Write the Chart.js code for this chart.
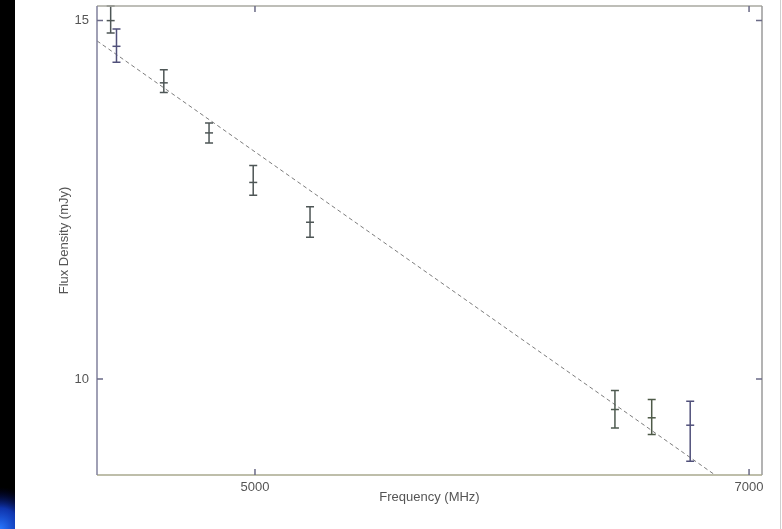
<!DOCTYPE html>
<html><head><meta charset="utf-8">
<script src="https://cdn.jsdelivr.net/npm/chart.js@4.4.1/dist/chart.umd.min.js"></script>
<style>html,body{margin:0;padding:0;background:#fff;}canvas{display:block;}</style>
</head><body>
<canvas id="c" width="782" height="529"></canvas>
<script>
// ---- data ----
const frequencies = [4532, 4550, 4699, 4846, 4994, 5191, 6389, 6551, 6725];   // MHz
const fluxValues  = [15.00, 14.57, 13.98, 13.21, 12.49, 11.94, 9.66, 9.57, 9.49]; // mJy
const fluxLower   = [14.79, 14.31, 13.83, 13.06, 12.31, 11.74, 9.46, 9.39, 9.11];
const fluxUpper   = [15.25, 14.86, 14.19, 13.36, 12.73, 12.15, 9.87, 9.77, 9.75];
const fitFrequencies = [4490, 6840];
const fitFlux        = [14.66, 8.97];
const xTickValues = [5000, 7000];
const yTickValues = [10, 15];
const xRange = [4490, 7062];
const yRange = [8.97, 15.25];

const barColors = ['#4e5656','#50507a','#4e5656','#4e5656','#4e5656','#4e5656','#4e5a50','#4e5a48','#50507a'];
const FONT = {family: '"Liberation Sans", Arial, sans-serif', size: 13};

const bgPlugin = {
  id: 'bg',
  beforeDraw(chart) {
    const {ctx, width, height} = chart;
    ctx.save();
    ctx.fillStyle = '#fff'; ctx.fillRect(0, 0, width, height);
    ctx.fillStyle = '#000'; ctx.fillRect(0, 0, 15, height);
    const g = ctx.createRadialGradient(0, height, 0, 0, height, 42);
    g.addColorStop(0, 'rgba(40,120,255,1)');
    g.addColorStop(0.5, 'rgba(20,70,230,0.75)');
    g.addColorStop(1, 'rgba(0,0,90,0)');
    ctx.fillStyle = g; ctx.fillRect(0, height - 42, 15, 42);
    ctx.fillStyle = '#cfcfcf'; ctx.fillRect(780, 0, 1, height);
    ctx.restore();
  }
};

const errPlugin = {
  id: 'errbars',
  afterDatasetsDraw(chart) {
    const {ctx, scales: {x, y}} = chart;
    ctx.save();
    ctx.lineWidth = 1.5;
    for (let i = 0; i < frequencies.length; i++) {
      const px = x.getPixelForValue(frequencies[i]);
      const yl = y.getPixelForValue(fluxLower[i]);
      const yh = y.getPixelForValue(fluxUpper[i]);
      ctx.strokeStyle = barColors[i];
      ctx.beginPath();
      ctx.moveTo(px, yl); ctx.lineTo(px, yh);
      ctx.moveTo(px - 4, yl); ctx.lineTo(px + 4, yl);
      ctx.moveTo(px - 4, yh); ctx.lineTo(px + 4, yh);
      ctx.stroke();
    }
    ctx.restore();
  }
};

const framePlugin = {
  id: 'frame',
  afterDraw(chart) {
    const {ctx, chartArea: a, scales: {x, y}} = chart;
    ctx.save();
    ctx.lineWidth = 1.5;
    ctx.strokeStyle = '#a8a8a0';
    ctx.beginPath(); ctx.moveTo(a.left, a.top); ctx.lineTo(a.right, a.top); ctx.stroke();
    ctx.strokeStyle = '#9a9a9a';
    ctx.beginPath(); ctx.moveTo(a.right, a.top); ctx.lineTo(a.right, a.bottom); ctx.stroke();
    ctx.strokeStyle = '#a9a98e';
    ctx.beginPath(); ctx.moveTo(a.left, a.bottom); ctx.lineTo(a.right, a.bottom); ctx.stroke();
    ctx.strokeStyle = '#80809c';
    ctx.beginPath(); ctx.moveTo(a.left, a.top); ctx.lineTo(a.left, a.bottom); ctx.stroke();
    ctx.strokeStyle = '#6a6a86';
    ctx.beginPath();
    x.ticks.forEach(t => {
      const px = x.getPixelForValue(t.value);
      ctx.moveTo(px, a.bottom); ctx.lineTo(px, a.bottom - 6);
      ctx.moveTo(px, a.top); ctx.lineTo(px, a.top + 6);
    });
    y.ticks.forEach(t => {
      const py = y.getPixelForValue(t.value);
      ctx.moveTo(a.left, py); ctx.lineTo(a.left + 6, py);
      ctx.moveTo(a.right, py); ctx.lineTo(a.right - 6, py);
    });
    ctx.stroke();
    ctx.restore();
  }
};

new Chart(document.getElementById('c'), {
  type: 'scatter',
  data: {
    datasets: [
      {
        type: 'line',
        data: fitFrequencies.map((f, i) => ({x: f, y: fitFlux[i]})),
        borderColor: '#7d7d7d', borderWidth: 1, borderDash: [4, 3],
        pointRadius: 0, fill: false, tension: 0
      },
      {
        data: frequencies.map((f, i) => ({x: f, y: fluxValues[i]})),
        pointStyle: 'line', pointRadius: 4, pointBorderWidth: 1.5,
        borderColor: barColors, backgroundColor: barColors, pointHoverRadius: 4
      }
    ]
  },
  options: {
    responsive: false, animation: false,
    layout: {padding: {top: 6, right: 20, bottom: 0, left: 0}},
    plugins: {legend: {display: false}, tooltip: {enabled: false}},
    scales: {
      x: {
        type: 'logarithmic', min: xRange[0], max: xRange[1], bounds: 'data',
        afterBuildTicks: s => { s.ticks = xTickValues.map(v => ({value: v})); },
        afterFit: s => { s.height = 54; s.paddingLeft = 0; s.paddingRight = 0; },
        grid: {display: false, drawTicks: false},
        border: {display: false},
        ticks: {color: '#555', font: FONT, padding: 5, autoSkip: false, maxRotation: 0,
                callback: v => String(v)},
        title: {display: true, text: 'Frequency (MHz)', color: '#555', font: FONT,
                padding: {top: 0, bottom: 24}}
      },
      y: {
        type: 'logarithmic', min: yRange[0], max: yRange[1], bounds: 'data',
        afterBuildTicks: s => { s.ticks = yTickValues.map(v => ({value: v})); },
        afterFit: s => { s.width = 97; s.paddingTop = 0; s.paddingBottom = 0; },
        grid: {display: false, drawTicks: false},
        border: {display: false},
        ticks: {color: '#555', font: FONT, padding: 8, callback: v => String(v)},
        title: {display: true, text: 'Flux Density (mJy)', color: '#555', font: FONT,
                padding: {top: 57, bottom: 0}}
      }
    }
  },
  plugins: [bgPlugin, errPlugin, framePlugin]
});
</script>
</body></html>
